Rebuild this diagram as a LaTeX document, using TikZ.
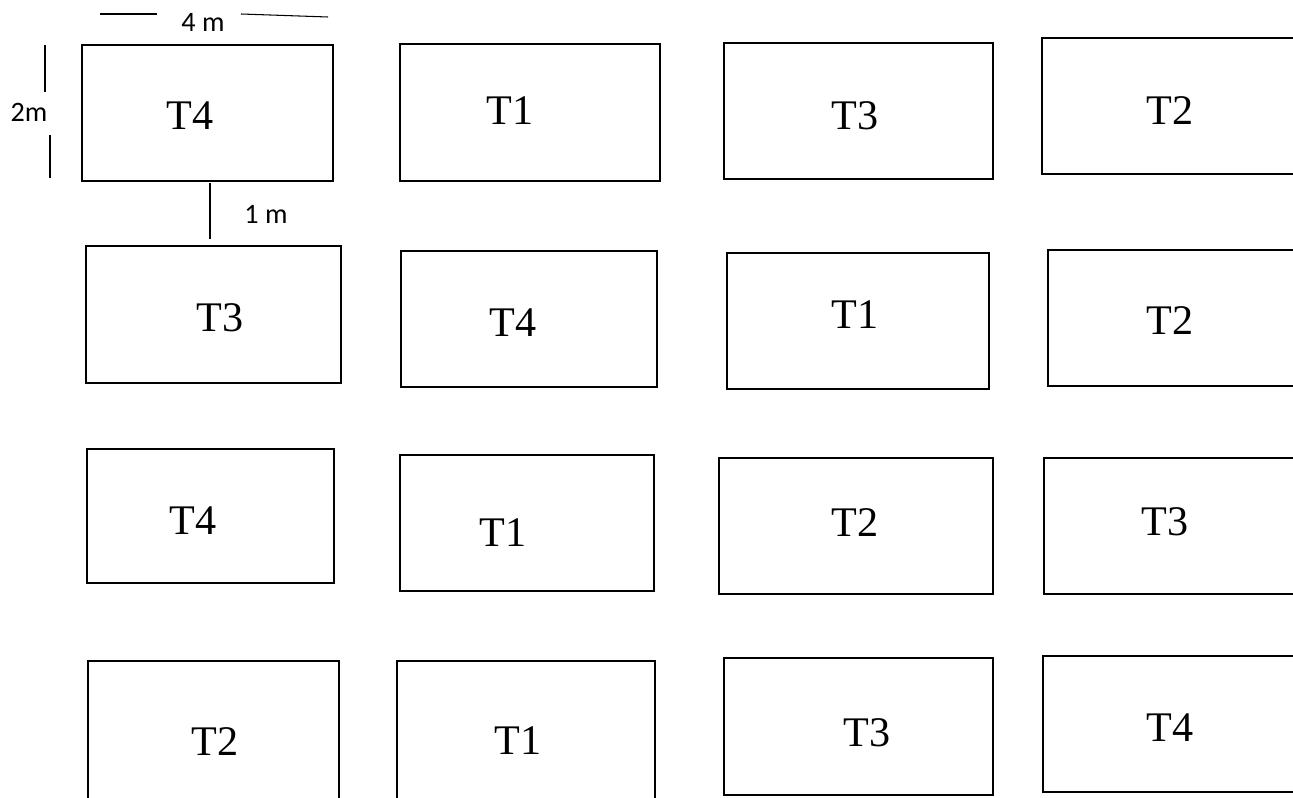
\documentclass[tikz,border=0pt]{standalone}
\usepackage{fontspec}
\setmainfont{Liberation Serif}
\newfontfamily\dimfont{Carlito}
\tikzset{
  plotbox/.style={draw,line width=1.3pt},
  trt/.style={font=\fontsize{24}{24}\selectfont,inner sep=0pt},
  dimline/.style={line width=0.6pt},
  dimlab/.style={font=\dimfont\fontsize{16}{16}\selectfont,inner sep=0pt},
}
\begin{document}
\begin{tikzpicture}[x=0.02cm,y=-0.02cm]
\useasboundingbox (0,0) rectangle (1293,797);
\clip (0,0) rectangle (1293,797);

% row 1
\draw[plotbox] (82,45) rectangle (333,181);
\draw[plotbox] (400,44) rectangle (660,181);
\draw[plotbox] (724,43) rectangle (993,179);
\draw[plotbox] (1042,38) rectangle (1310,174);
\node[trt] (a1) at (190,116) {T4};
\node[trt] (a2) at (510,111) {T1};
\node[trt] (a3) at (855,116) {T3};
\node[trt] (a4) at (1170,111) {T2};

% row 2
\draw[plotbox] (86,246) rectangle (341,383);
\draw[plotbox] (401,251) rectangle (657,387);
\draw[plotbox] (727,253) rectangle (989,389);
\draw[plotbox] (1048,250) rectangle (1310,386);
\node[trt] (b1) at (220,318) {T3};
\node[trt] (b2) at (513,323) {T4};
\node[trt] (b3) at (855,315) {T1};
\node[trt] (b4) at (1170,321) {T2};

% row 3
\draw[plotbox] (87,449) rectangle (334,583);
\draw[plotbox] (400,455) rectangle (654,591);
\draw[plotbox] (719,458) rectangle (993,594);
\draw[plotbox] (1044,458) rectangle (1310,594);
\node[trt] (c1) at (193,521) {T4};
\node[trt] (c2) at (503,533) {T1};
\node[trt] (c3) at (855,523) {T2};
\node[trt] (c4) at (1165,522) {T3};

% row 4
\draw[plotbox] (88,661) rectangle (339,815);
\draw[plotbox] (397,661) rectangle (655,815);
\draw[plotbox] (724,658) rectangle (993,795);
\draw[plotbox] (1043,656) rectangle (1310,792);
\node[trt] (d1) at (215,742) {T2};
\node[trt] (d2) at (518,741) {T1};
\node[trt] (d3) at (867,733) {T3};
\node[trt] (d4) at (1170,728) {T4};

% dimensions
\node[dimlab] (w4) at (203,22) {4 m};
\node[dimlab] (h2) at (29,112) {2m};
\node[dimlab] (g1) at (266,214) {1 m};
\draw[dimline] (100,14) -- (157,14);
\draw[dimline] (241,14) -- (328,17);
\draw[dimline] (45,45) -- (45,92);
\draw[dimline] (50,135) -- (50,178);
\draw[dimline] (210,183) -- (210,239);
\end{tikzpicture}
\end{document}
